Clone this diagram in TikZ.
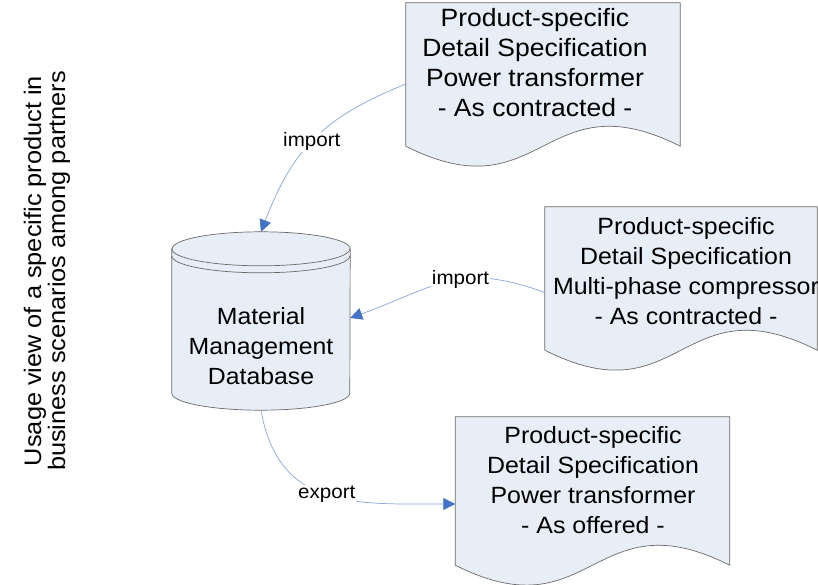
\documentclass[tikz,border=0pt]{standalone}
\usepackage{fontspec}
\setmainfont{Liberation Sans}[FakeStretch=1.06]
\usetikzlibrary{arrows.meta,backgrounds,calc}

\definecolor{specfill}{RGB}{232,238,247}
\definecolor{specline}{RGB}{105,105,105}
\definecolor{flowline}{RGB}{135,165,220}
\definecolor{flowhead}{RGB}{68,114,196}

\begin{document}
\begin{tikzpicture}[x=1pt,y=1pt,
        docbox/.style={minimum width=274pt,minimum height=143pt,inner sep=0pt},
        doctext/.style={align=center,font=\fontsize{23.5}{30}\selectfont},
        dbbox/.style={minimum width=178pt,minimum height=178pt,inner sep=0pt},
        shapeline/.style={draw=specline,fill=specfill,line width=0.7pt},
        flow/.style={draw=flowline,line width=0.7pt,-{Triangle[length=12pt,width=12pt,color=flowhead]}},
        tag/.style={fill=white,inner sep=1pt,font=\fontsize{19.4}{22}\selectfont}]
    \useasboundingbox (0,0) rectangle (818,584);

    % side title
    \node[rotate=90,align=center,font=\fontsize{23.9}{24}\selectfont] (usage) at (47,313)
        {Usage view of a specific product in\\business scenarios among partners};

    % documents and database
    \node[docbox] (specA) at (543,509.5) {};
    \node[docbox,minimum width=272pt] (specB) at (681,305.5) {};
    \node[docbox,minimum height=148pt] (specC) at (592.5,93) {};
    \node[dbbox] (mmdb) at (261,263) {};

    \node[doctext,font=\fontsize{25}{30}\selectfont] (specAtext) at (535,521)
        {Product-specific\\Detail Specification\\Power transformer\\- As contracted -};
    \node[doctext] (specBtext) at (686,313)
        {Product-specific\\Detail Specification\\Multi-phase compressor\\- As contracted -};
    \node[doctext] (specCtext) at (593,104)
        {Product-specific\\Detail Specification\\Power transformer\\- As offered -};
    \node[doctext,font=\fontsize{23.4}{30}\selectfont] (mmdbtext) at (261,238)
        {Material\\Management\\Database};

    \begin{scope}[on background layer]
        \foreach \d in {specA,specB,specC}
            \draw[shapeline] (\d.south west) -- (\d.north west) -- (\d.north east) -- (\d.south east)
                .. controls +(-137,69) and +(137,-69) .. (\d.south west) -- cycle;
        \draw[shapeline] ($(mmdb.north west)+(0,-17)$) -- ($(mmdb.south west)+(0,17)$)
            arc[start angle=180,end angle=360,x radius=89,y radius=17]
            -- ($(mmdb.north east)+(0,-17)$)
            arc[start angle=0,end angle=180,x radius=89,y radius=17] -- cycle;
        \draw[specline,line width=0.7pt] ($(mmdb.north west)+(0,-17)$)
            arc[start angle=180,end angle=360,x radius=89,y radius=17];
        \draw[specline,line width=0.7pt] ($(mmdb.north west)+(0,-24)$)
            arc[start angle=180,end angle=360,x radius=89,y radius=17];
    \end{scope}

    \path
        ([yshift=-9.5pt]specA.west) edge[flow,out=202,in=69,looseness=1.1] node[tag,pos=0.52] {import} (mmdb.north)
        ([yshift=-14pt]specB.west) edge[flow,out=160,in=20,looseness=1.2] node[tag,pos=0.42] {import} ([yshift=3pt]mmdb.east)
        (mmdb.south) edge[flow,out=280,in=180,looseness=1.2] node[tag,pos=0.5] {export} ([yshift=-13pt]specC.west);
\end{tikzpicture}
\end{document}
